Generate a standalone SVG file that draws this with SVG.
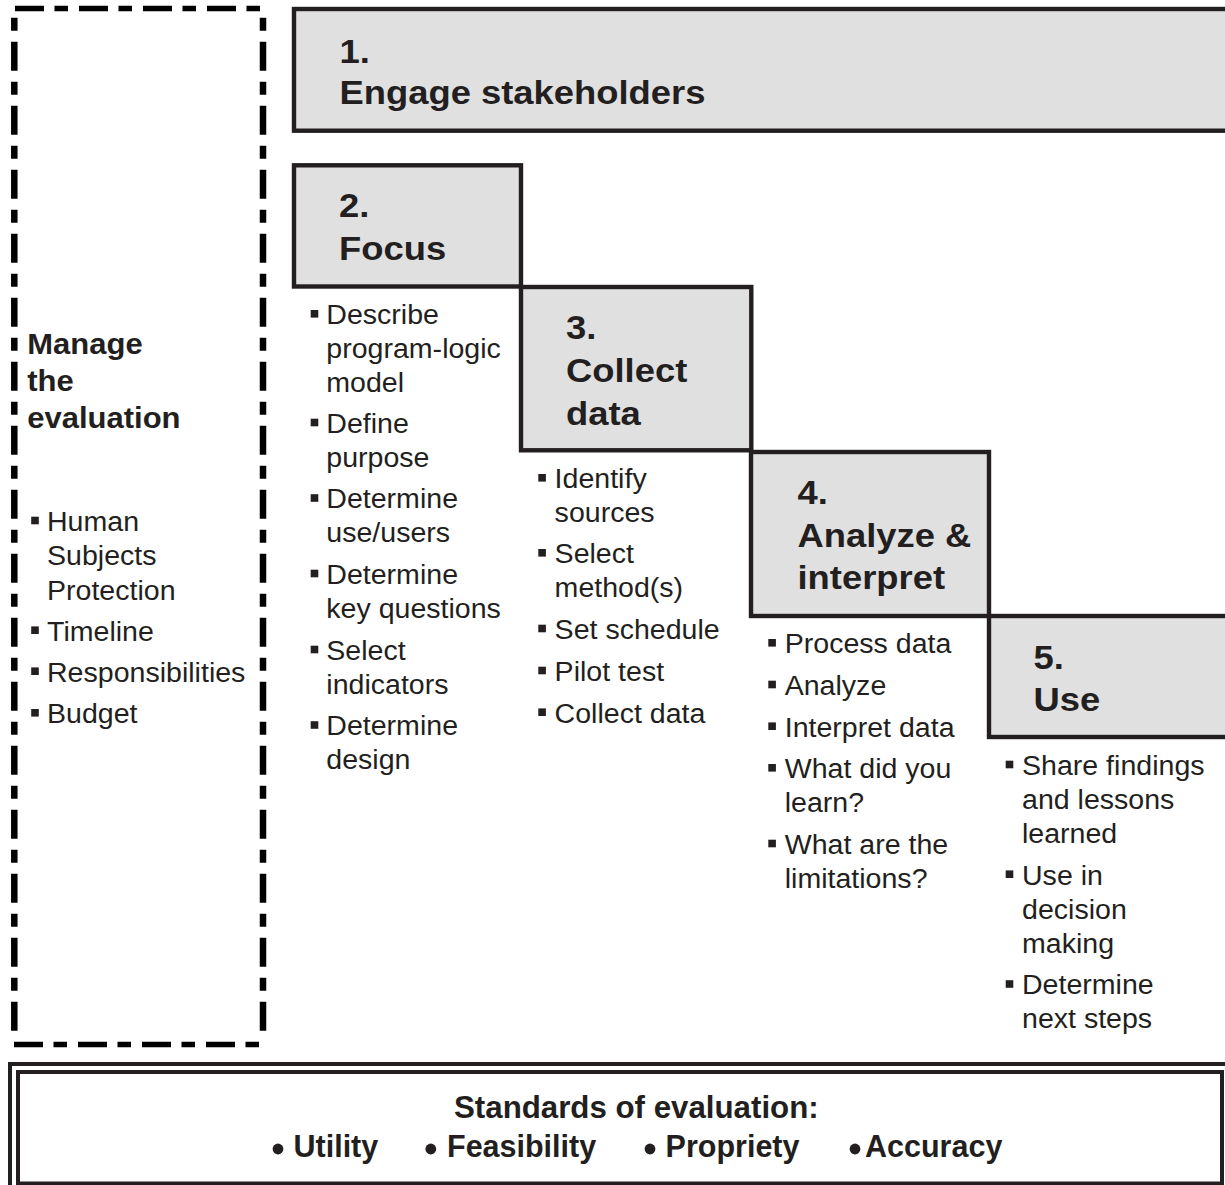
<svg xmlns="http://www.w3.org/2000/svg" width="1225" height="1185" viewBox="0 0 1225 1185">
<style>
.box{fill:#e0e0e0;stroke:#231f20;stroke-width:4.4}
.frame{fill:none;stroke:#231f20;stroke-width:4}
.dh{fill:none;stroke:#000;stroke-width:5.5;stroke-dasharray:29 10.5 13.5 11}
.dv{fill:none;stroke:#000;stroke-width:6.5;stroke-dasharray:13 11 29 11}
.t{font-family:"Liberation Sans",Arial,sans-serif;font-weight:bold;font-size:34px;fill:#231f20}
.m{font-family:"Liberation Sans",Arial,sans-serif;font-weight:bold;font-size:29px;fill:#231f20}
.b{font-family:"Liberation Sans",Arial,sans-serif;font-size:27px;fill:#231f20}
.s{font-family:"Liberation Sans",Arial,sans-serif;font-weight:bold;font-size:30.5px;fill:#231f20}
.sq{fill:#231f20}
</style>
<g id="manage">
<path class="dh" d="M15,8.5 H262"/>
<path class="dh" d="M14,1044.5 H262"/>
<path class="dv" d="M14.3,17.7 V1031"/>
<path class="dv" d="M263,17.7 V1031"/>
<g transform="translate(27.3 0) scale(1.069 1)">
<text class="m" x="0" y="354">Manage</text>
<text class="m" x="0" y="390.7">the</text>
<text class="m" x="0" y="428.3">evaluation</text>
</g>
<rect class="sq" x="31.2" y="516.7" width="7.6" height="7.6"/>
<rect class="sq" x="31.2" y="626.4" width="7.6" height="7.6"/>
<rect class="sq" x="31.2" y="667.4" width="7.6" height="7.6"/>
<rect class="sq" x="31.2" y="709" width="7.6" height="7.6"/>
<g transform="translate(47 0) scale(1.058 1)">
<text class="b" x="0" y="531">Human</text>
<text class="b" x="0" y="565.5">Subjects</text>
<text class="b" x="0" y="600">Protection</text>
<text class="b" x="0" y="640.7">Timeline</text>
<text class="b" x="0" y="681.7">Responsibilities</text>
<text class="b" x="0" y="723.3">Budget</text>
</g>
</g>
<g id="step1">
<rect class="box" x="294" y="9" width="1000" height="121.7"/>
<g transform="translate(339.5 0) scale(1.07 1)">
<text class="t" x="0" y="62.7">1.</text>
<text class="t" x="0" y="104.3">Engage stakeholders</text>
</g>
</g>
<g id="step2">
<rect class="box" x="294" y="165.3" width="227" height="121.2"/>
<g transform="translate(339 0) scale(1.07 1)">
<text class="t" x="0" y="216.7">2.</text>
<text class="t" x="0" y="260">Focus</text>
</g>
<rect class="sq" x="310.7" y="310" width="7.6" height="7.6"/>
<rect class="sq" x="310.7" y="418.7" width="7.6" height="7.6"/>
<rect class="sq" x="310.7" y="494.2" width="7.6" height="7.6"/>
<rect class="sq" x="310.7" y="569.7" width="7.6" height="7.6"/>
<rect class="sq" x="310.7" y="645.7" width="7.6" height="7.6"/>
<rect class="sq" x="310.7" y="721.2" width="7.6" height="7.6"/>
<g transform="translate(326.3 0) scale(1.058 1)">
<text class="b" x="0" y="324.3">Describe</text>
<text class="b" x="0" y="358.3">program-logic</text>
<text class="b" x="0" y="392.3">model</text>
<text class="b" x="0" y="433">Define</text>
<text class="b" x="0" y="467">purpose</text>
<text class="b" x="0" y="508.5">Determine</text>
<text class="b" x="0" y="542.5">use/users</text>
<text class="b" x="0" y="584">Determine</text>
<text class="b" x="0" y="618">key questions</text>
<text class="b" x="0" y="660">Select</text>
<text class="b" x="0" y="694">indicators</text>
<text class="b" x="0" y="735.5">Determine</text>
<text class="b" x="0" y="769.5">design</text>
</g>
</g>
<g id="step3">
<rect class="box" x="521" y="287" width="230.3" height="163.3"/>
<g transform="translate(566 0) scale(1.07 1)">
<text class="t" x="0" y="339.3">3.</text>
<text class="t" x="0" y="382.3">Collect</text>
<text class="t" x="0" y="425">data</text>
</g>
<rect class="sq" x="538.3" y="474" width="7.6" height="7.6"/>
<rect class="sq" x="538.3" y="549" width="7.6" height="7.6"/>
<rect class="sq" x="538.3" y="624.7" width="7.6" height="7.6"/>
<rect class="sq" x="538.3" y="666.7" width="7.6" height="7.6"/>
<rect class="sq" x="538.3" y="708.4" width="7.6" height="7.6"/>
<g transform="translate(554.6 0) scale(1.058 1)">
<text class="b" x="0" y="488.3">Identify</text>
<text class="b" x="0" y="522">sources</text>
<text class="b" x="0" y="563.3">Select</text>
<text class="b" x="0" y="597.5">method(s)</text>
<text class="b" x="0" y="639">Set schedule</text>
<text class="b" x="0" y="681">Pilot test</text>
<text class="b" x="0" y="722.7">Collect data</text>
</g>
</g>
<g id="step4">
<rect class="box" x="751" y="452" width="238" height="164"/>
<g transform="translate(797.5 0) scale(1.07 1)">
<text class="t" x="0" y="504.3">4.</text>
<text class="t" x="0" y="547.3">Analyze &amp;</text>
<text class="t" x="0" y="589.3">interpret</text>
</g>
<rect class="sq" x="768.3" y="639" width="7.6" height="7.6"/>
<rect class="sq" x="768.3" y="680.7" width="7.6" height="7.6"/>
<rect class="sq" x="768.3" y="722.4" width="7.6" height="7.6"/>
<rect class="sq" x="768.3" y="764" width="7.6" height="7.6"/>
<rect class="sq" x="768.3" y="839.7" width="7.6" height="7.6"/>
<g transform="translate(784.7 0) scale(1.058 1)">
<text class="b" x="0" y="653.3">Process data</text>
<text class="b" x="0" y="695">Analyze</text>
<text class="b" x="0" y="736.7">Interpret data</text>
<text class="b" x="0" y="778.3">What did you</text>
<text class="b" x="0" y="812.3">learn?</text>
<text class="b" x="0" y="854">What are the</text>
<text class="b" x="0" y="888">limitations?</text>
</g>
</g>
<g id="step5">
<rect class="box" x="989" y="616" width="300" height="121"/>
<g transform="translate(1033.5 0) scale(1.07 1)">
<text class="t" x="0" y="669.3">5.</text>
<text class="t" x="0" y="710.7">Use</text>
</g>
<rect class="sq" x="1005.7" y="760.7" width="7.6" height="7.6"/>
<rect class="sq" x="1005.7" y="870.4" width="7.6" height="7.6"/>
<rect class="sq" x="1005.7" y="980.2" width="7.6" height="7.6"/>
<g transform="translate(1022 0) scale(1.058 1)">
<text class="b" x="0" y="775">Share findings</text>
<text class="b" x="0" y="809">and lessons</text>
<text class="b" x="0" y="843">learned</text>
<text class="b" x="0" y="884.7">Use in</text>
<text class="b" x="0" y="918.7">decision</text>
<text class="b" x="0" y="952.7">making</text>
<text class="b" x="0" y="994.5">Determine</text>
<text class="b" x="0" y="1028.5">next steps</text>
</g>
</g>
<g id="standards">
<rect class="frame" x="10" y="1064" width="1300" height="200"/>
<rect class="frame" x="18" y="1072" width="1204" height="111.5"/>
<g transform="translate(454 0) scale(1.025 1)">
<text class="s" x="0" y="1118.3">Standards of evaluation:</text>
</g>
<circle class="sq" cx="278" cy="1149" r="5.4"/>
<text class="s" x="293.5" y="1157.3">Utility</text>
<circle class="sq" cx="430.8" cy="1149" r="5.4"/>
<text class="s" x="447" y="1157.3">Feasibility</text>
<circle class="sq" cx="650" cy="1149" r="5.4"/>
<text class="s" x="665.6" y="1157.3">Propriety</text>
<circle class="sq" cx="855" cy="1149" r="5.4"/>
<text class="s" x="865" y="1157.3">Accuracy</text>
</g>
<g id="connectors"/>
</svg>
